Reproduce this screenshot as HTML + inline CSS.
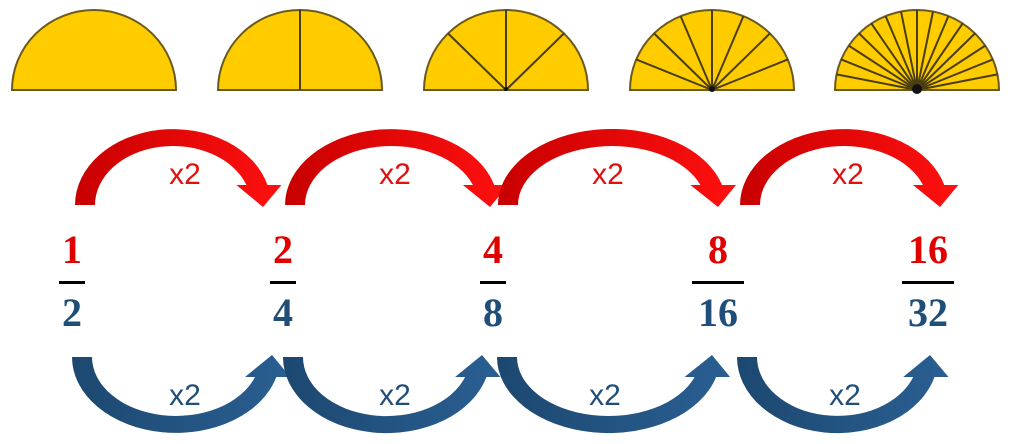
<!DOCTYPE html>
<html><head><meta charset="utf-8"><style>
html,body{margin:0;padding:0;background:#fff;width:1024px;height:444px;overflow:hidden}
svg{display:block}
.fr{font-family:"Liberation Serif",serif;font-weight:bold;font-size:40px;text-anchor:middle}
.x2{font-family:"Liberation Sans",sans-serif;font-size:30px;text-anchor:middle}
</style></head><body>
<svg id="s" width="1024" height="444" viewBox="0 0 1024 444" xmlns="http://www.w3.org/2000/svg">
<defs>
<linearGradient id="gr" x1="0" x2="1" y1="0" y2="0"><stop offset="0" stop-color="#c80000"/><stop offset="1" stop-color="#ff1010"/></linearGradient>
<linearGradient id="gb" x1="0" x2="1" y1="0" y2="0"><stop offset="0" stop-color="#1c4870"/><stop offset="1" stop-color="#2a5f92"/></linearGradient>
</defs>
<g id="g"></g>
</svg>
<script>
var g=document.getElementById('g'),h='';
var semis=[[94,1],[300,2],[506,4],[712,8],[917,16]];
semis.forEach(function(s){
 var cx=s[0],cy=90,rx=82,ry=80;
 h+='<path d="M'+(cx-rx)+' '+cy+' A'+rx+' '+ry+' 0 0 1 '+(cx+rx)+' '+cy+' Z" fill="#ffcc00" stroke="#6b5a1e" stroke-width="2"/>';
 for(var i=1;i<s[1];i++){var a=Math.PI*i/s[1];
  h+='<line x1="'+cx+'" y1="'+cy+'" x2="'+(cx-rx*Math.cos(a)).toFixed(1)+'" y2="'+(cy-ry*Math.sin(a)).toFixed(1)+'" stroke="#4a3e10" stroke-width="2"/>';}
 if(s[1]>=4)h+='<circle cx="'+cx+'" cy="'+(cy-1)+'" r="'+(s[1]/4+1)+'" fill="#111"/>';
});
function arrow(x0,tip,base,dir,fill){
 var cx=(x0+tip)/2+4, rx=cx-x0, ry=76, rxi=rx-20, ryi=ry-17;
 var d=20, yj=base+dir*d, ytip=base-dir*2;
 var xo=cx+rx*Math.sqrt(1-Math.pow(d/ry,2)), xi=cx+rxi*Math.sqrt(1-Math.pow(d/ryi,2));
 var sw=dir<0?1:0, sw2=dir<0?0:1;
 var p='M'+x0+' '+base+' A'+rx+' '+ry+' 0 0 '+sw+' '+xo.toFixed(1)+' '+yj+
  ' L'+(xo+14).toFixed(1)+' '+yj+' L'+tip+' '+ytip+' L'+(xi-10).toFixed(1)+' '+yj+
  ' L'+xi.toFixed(1)+' '+yj+' A'+rxi+' '+ryi+' 0 0 '+sw2+' '+(x0+20)+' '+base+' Z';
 h+='<path d="'+p+'" fill="'+fill+'"/>';
}
[[75,263],[285,490],[498,718],[740,940]].forEach(function(a){arrow(a[0],a[1],205,-1,'url(#gr)');});
[[72,272],[283,482],[497,712],[737,930]].forEach(function(a){arrow(a[0],a[1],357,1,'url(#gb)');});
[185,395,608,848].forEach(function(x){h+='<text class="x2" x="'+x+'" y="184" fill="#e01010">x2</text>';});
[185,395,605,845].forEach(function(x){h+='<text class="x2" x="'+x+'" y="405" fill="#1f4e79">x2</text>';});
[[72,'1','2',26],[283,'2','4',26],[493,'4','8',26],[718,'8','16',52],[928,'16','32',52]].forEach(function(f){
 h+='<text class="fr" x="'+f[0]+'" y="263" fill="#e00000">'+f[1]+'</text>';
 h+='<rect x="'+(f[0]-f[3]/2)+'" y="281" width="'+f[3]+'" height="3" fill="#000"/>';
 h+='<text class="fr" x="'+f[0]+'" y="326" fill="#1f4e79">'+f[2]+'</text>';
});
g.innerHTML=h;
</script>
</body></html>
